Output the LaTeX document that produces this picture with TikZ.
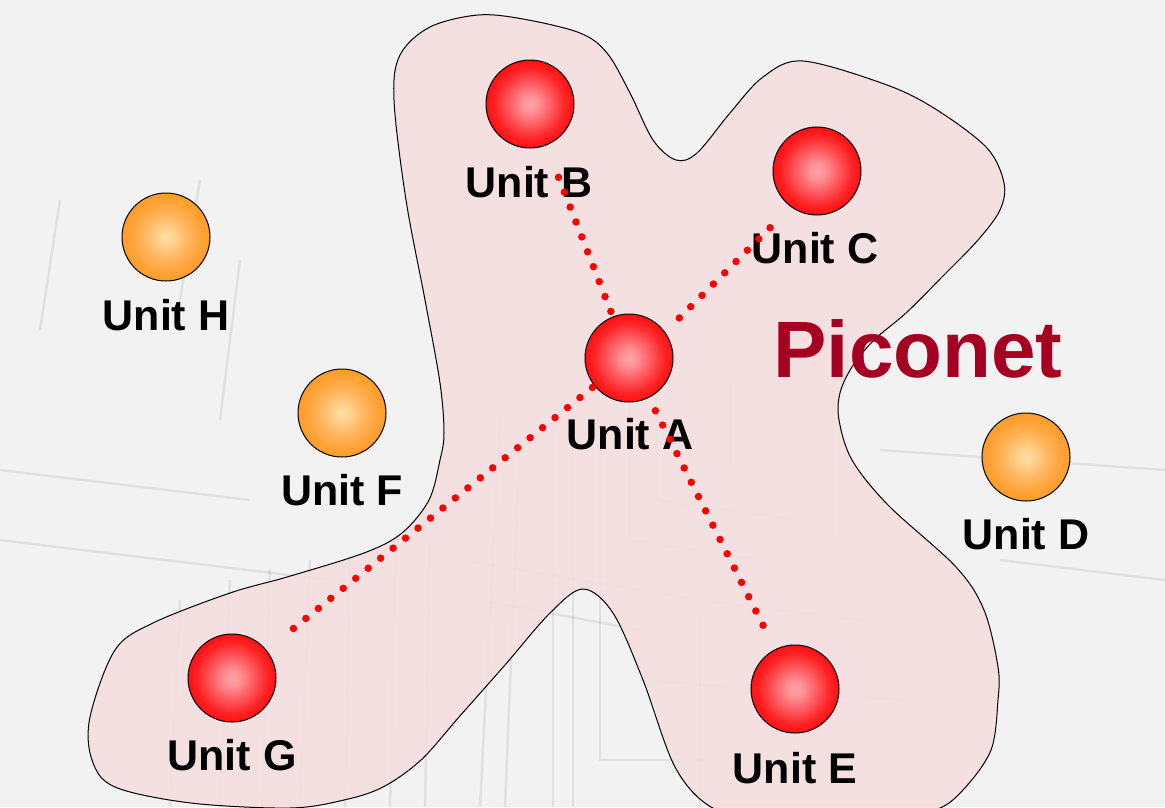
\documentclass[tikz,border=0pt]{standalone}
\usepackage{fontspec}
\setmainfont{Liberation Sans}
\definecolor{bgc}{HTML}{F2F2F2}
\definecolor{blobc}{HTML}{F5DEDE}
\definecolor{picored}{HTML}{A50021}
\definecolor{dotred}{HTML}{FF0000}
\pgfdeclareradialshading{redball}{\pgfpoint{0bp}{0bp}}{rgb(0bp)=(1,0.64,0.66); rgb(5bp)=(1,0.56,0.58); rgb(12bp)=(1,0.36,0.38); rgb(20bp)=(1,0.14,0.15); rgb(27bp)=(1,0.03,0.03); rgb(50bp)=(1,0,0)}
\pgfdeclareradialshading{orangeball}{\pgfpoint{0bp}{0bp}}{rgb(0bp)=(1,0.87,0.64); rgb(5bp)=(1,0.82,0.55); rgb(12bp)=(1,0.72,0.38); rgb(20bp)=(1,0.64,0.22); rgb(27bp)=(0.99,0.60,0.14); rgb(50bp)=(0.98,0.58,0.10)}
\tikzset{
  redunit/.style={circle, draw=black, line width=1pt, inner sep=0pt, minimum size=88pt, shading=redball},
  orangeunit/.style={circle, draw=black, line width=1pt, inner sep=0pt, minimum size=88pt, shading=orangeball},
  unitlabel/.style={anchor=base, inner sep=0pt, font=\bfseries\fontsize{43}{43}\selectfont},
  dotline/.style={draw=dotred, line width=7.5pt, line cap=round, dash pattern=on 0pt off 16pt},
  bgline/.style={draw=black, opacity=0.07, line width=2.5pt},
  blobline/.style={draw=black, line width=1pt, fill=blobc, fill opacity=0.85}
}
\begin{document}
\begin{tikzpicture}[x=1pt,y=-1pt]
\useasboundingbox (0,0) rectangle (1165,807);
\clip (0,0) rectangle (1165,807);
\fill[bgc] (0,0) rectangle (1165,807);
% faint background schematic
\draw[bgline] (553,420) -- (553,807);
\draw[bgline] (573,400) -- (573,807);
\draw[bgline] (600,440) -- (600,760) -- (720,760);
\draw[bgline] (630,380) -- (630,540) -- (760,560);
\draw[bgline] (657,400) -- (657,500) -- (800,520);
\draw[bgline] (730,380) -- (730,470);
\draw[bgline] (833,380) -- (833,540);
\draw[bgline] (460,560) -- (700,600) -- (860,620);
\draw[bgline] (480,600) -- (640,630);
\draw[bgline] (500,420) -- (480,807);
\draw[bgline] (520,440) -- (505,807);
\draw[bgline] (0,540) -- (330,580);
\draw[bgline] (180,600) -- (170,807);
\draw[bgline] (230,580) -- (220,807);
\draw[bgline] (270,570) -- (262,807);
\draw[bgline] (310,560) -- (300,807);
\draw[bgline] (350,560) -- (345,807);
\draw[bgline] (395,550) -- (390,807);
\draw[bgline] (430,540) -- (425,807);
\draw[bgline] (700,620) -- (700,807);
\draw[bgline] (640,680) -- (900,700);
\draw[bgline] (60,200) -- (40,330);
\draw[bgline] (200,180) -- (180,300);
\draw[bgline] (240,260) -- (220,420);
\draw[bgline] (0,470) -- (250,500);
\draw[bgline] (880,450) -- (1165,470);
\draw[bgline] (1000,560) -- (1165,580);
% piconet blob
\path[blobline] plot[smooth cycle, tension=0.55] coordinates {
 (478,15) (523,19) (580,33) (607,53) (630,93) (653,140) (676,160) (697,153)
 (730,113) (763,77) (803,61) (887,85) (937,110) (987,148) (1004,183) (1000,210)
 (978,240) (942,277) (906,313) (874,340) (852,367) (840,393) (839,420) (852,460)
 (888,505) (956,567) (984,610) (998,667) (998,700) (991,750) (963,790) (935,810)
 (880,818) (760,818) (711,807) (675,767) (643,680) (613,613) (583,589) (550,613)
 (505,665) (459,717) (421,760) (383,787) (344,800) (290,808) (191,803) (115,787)
 (92,760) (90,717) (115,650) (153,623) (230,593) (287,577) (364,553) (402,533)
 (429,500) (440,460) (444,433) (440,383) (425,300) (406,200) (394,100) (400,55) (430,27)};
% units
\node[redunit] (B) at (530,104) {};
\node[redunit] (C) at (817,171) {};
\node[redunit] (A) at (629,358) {};
\node[redunit] (G) at (232,678) {};
\node[redunit] (E) at (795,689) {};
\node[orangeunit] (H) at (166,237) {};
\node[orangeunit] (F) at (342,413) {};
\node[orangeunit] (D) at (1026,457) {};
% labels
\node[unitlabel] (lB) at (529,197) {Unit B};
\node[unitlabel] (lC) at (815,263) {Unit C};
\node[unitlabel] (lA) at (630,449) {Unit A};
\node[unitlabel] (lG) at (232,770) {Unit G};
\node[unitlabel] (lE) at (795,783) {Unit E};
\node[unitlabel] (lH) at (166,330) {Unit H};
\node[unitlabel] (lF) at (342,505) {Unit F};
\node[unitlabel] (lD) at (1026,549) {Unit D};
\node[anchor=base, inner sep=0pt, text=picored, font=\bfseries\fontsize{80}{80}\selectfont] (pico) at (918,377) {Piconet};
% links
\draw[dotline, shorten <=50pt, shorten >=76pt] (A.center) -- (B.center);
\draw[dotline, shorten <=71pt, shorten >=64pt] ([yshift=-10pt]A.center) -- ([yshift=-10pt]C.center);
\draw[dotline, shorten <=47pt, shorten >=72pt] (A.center) -- (G.center);
\draw[dotline, shorten <=59pt, shorten >=66pt] (A.center) -- (E.center);
\end{tikzpicture}
\end{document}
